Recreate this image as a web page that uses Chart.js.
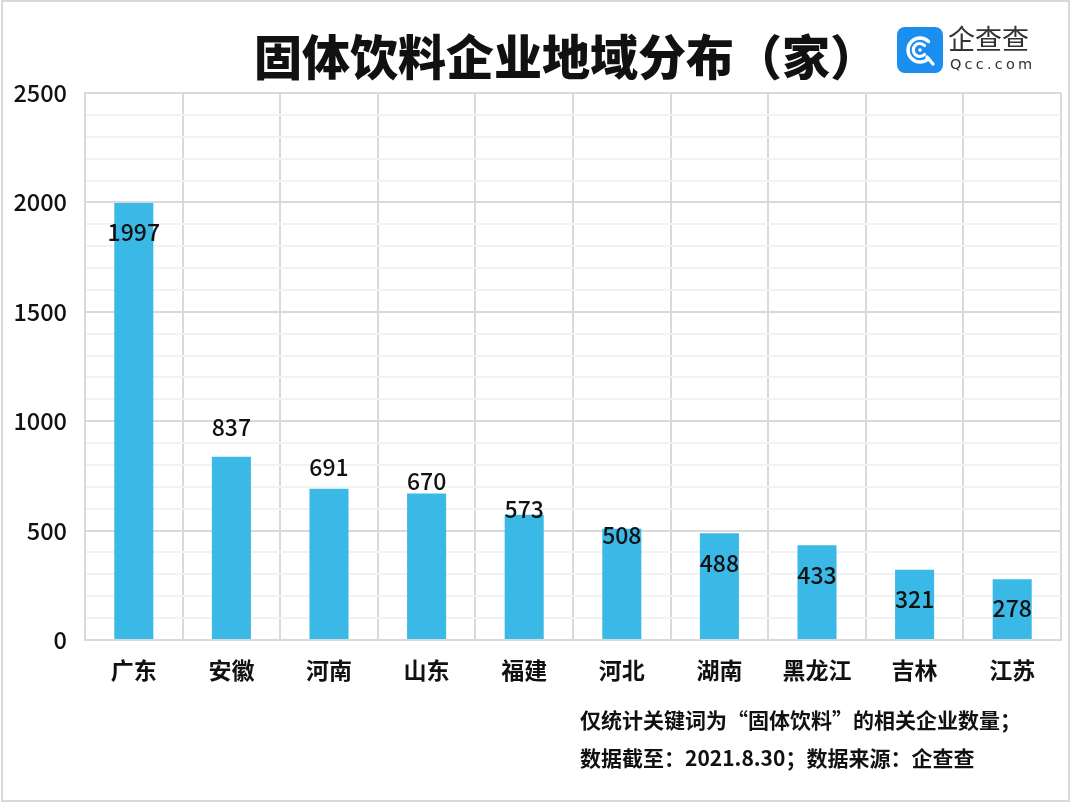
<!DOCTYPE html>
<html>
<head>
<meta charset="utf-8">
<script src="https://cdn.jsdelivr.net/npm/chart.js@4.4.0/dist/chart.umd.min.js"></script>
<style>
  html,body{margin:0;padding:0;background:#fff;}
  body{width:1070px;height:803px;position:relative;overflow:hidden;font-family:"Noto Sans CJK SC","Noto Sans",sans-serif;}
  #frame{position:absolute;left:1px;top:0px;width:1065px;height:798px;border:2px solid #d9d9d9;pointer-events:none;}
  #wrap{position:absolute;left:0;top:0;width:1070px;height:803px;}
  #title{position:absolute;left:0;width:1132px;top:21px;text-align:center;font-size:48px;font-weight:900;color:#111;line-height:66px;}
  .note{position:absolute;left:580px;font-size:21px;font-weight:700;color:#111;line-height:28px;white-space:nowrap;}
  #logo{position:absolute;left:897px;top:27px;}
  #lt1{position:absolute;left:948px;top:20px;font-size:27px;color:#333;line-height:36px;}
  #lt2{position:absolute;left:950px;top:54px;font-size:14.5px;color:#333;line-height:20px;letter-spacing:3.2px;font-family:"DejaVu Sans","Noto Sans",sans-serif;}
</style>
</head>
<body>
<div id="wrap"><canvas id="c" width="1070" height="803"></canvas></div>
<div id="title">固体饮料企业地域分布（家）</div>
<svg id="logo" width="46" height="46" viewBox="0 0 46 46">
  <rect x="0" y="0" width="46" height="46" rx="8" ry="8" fill="#1a8ff0"/>
  <path d="M31.5 14.5 A12 12 0 1 0 31.5 31.5" fill="none" stroke="#fff" stroke-width="3.4" stroke-linecap="round"/>
  <path d="M27.5 18.5 A6.5 6.5 0 1 0 27.5 27.5" fill="none" stroke="#fff" stroke-width="3.2" stroke-linecap="round"/>
  <circle cx="23" cy="23" r="1.8" fill="#fff"/>
  <path d="M30 30 L36 37" stroke="#fff" stroke-width="3.4" stroke-linecap="round"/>
</svg>
<div id="lt1">企查查</div>
<div id="lt2">Qcc.com</div>
<div class="note" style="top:705px;">仅统计关键词为“固体饮料”的相关企业数量；</div>
<div class="note" style="top:743px;">数据截至：2021.8.30；数据来源：企查查</div>
<div id="frame"></div>
<script>
const categories = ["广东","安徽","河南","山东","福建","河北","湖南","黑龙江","吉林","江苏"];
const values = [1997, 837, 691, 670, 573, 508, 488, 433, 321, 278];
const yMin = 0, yMax = 2500, yMajorStep = 500, yMinorStep = 100;

const FONT = '"Noto Sans CJK SC","Noto Sans",sans-serif';

const valueLabelPlugin = {
  id: 'valueLabels',
  afterDatasetsDraw(chart, args, opts) {
    const ctx = chart.ctx;
    const meta = chart.getDatasetMeta(0);
    ctx.save();
    ctx.font = opts.font;
    ctx.fillStyle = opts.color;
    ctx.textAlign = 'center';
    ctx.textBaseline = 'middle';
    meta.data.forEach((bar, i) => {
      const off = opts.offsets[i] || 0;
      ctx.fillText(String(chart.data.datasets[0].data[i]), bar.x, bar.y + off);
    });
    ctx.restore();
  }
};

new Chart(document.getElementById('c'), {
  type: 'bar',
  data: {
    labels: categories,
    datasets: [{
      data: values,
      backgroundColor: '#3bb9e6',
      borderWidth: 0,
      barPercentage: 0.4,
      categoryPercentage: 1.0
    }]
  },
  options: {
    responsive: false,
    animation: false,
    devicePixelRatio: 1,
    layout: { padding: { top: 93, left: 0, right: 9, bottom: 0 } },
    plugins: {
      legend: { display: false },
      title: { display: false },
      tooltip: { enabled: false },
      valueLabels: {
        font: '500 23px ' + FONT,
        color: '#111',
        offsets: [29, -30, -22, -12, -5, 6, 30, 30, 30, 29]
      }
    },
    scales: {
      x: {
        grid: { offset: true, color: '#d9d9d9', lineWidth: 2, drawTicks: false },
        border: { display: true, color: '#d9d9d9', width: 2 },
        ticks: { color: '#111', font: { family: FONT, size: 23, weight: '700' }, padding: 16, maxRotation: 0 },
        afterFit(scale) { scale.height = 163; }
      },
      y: {
        min: yMin, max: yMax,
        grid: {
          drawTicks: false,
          lineWidth: 2,
          color: (ctx) => (ctx.tick && ctx.tick.value % yMajorStep === 0) ? '#d9d9d9' : '#f2f2f2'
        },
        border: { display: true, color: '#d9d9d9', width: 2 },
        ticks: {
          stepSize: yMinorStep,
          autoSkip: false,
          color: '#111',
          font: { family: FONT, size: 23.5, weight: '500' },
          padding: 18,
          callback: (v) => (v % yMajorStep === 0) ? String(v) : ''
        },
        afterFit(scale) { scale.width = 85; }
      }
    }
  },
  plugins: [valueLabelPlugin]
});
</script>
</body>
</html>
